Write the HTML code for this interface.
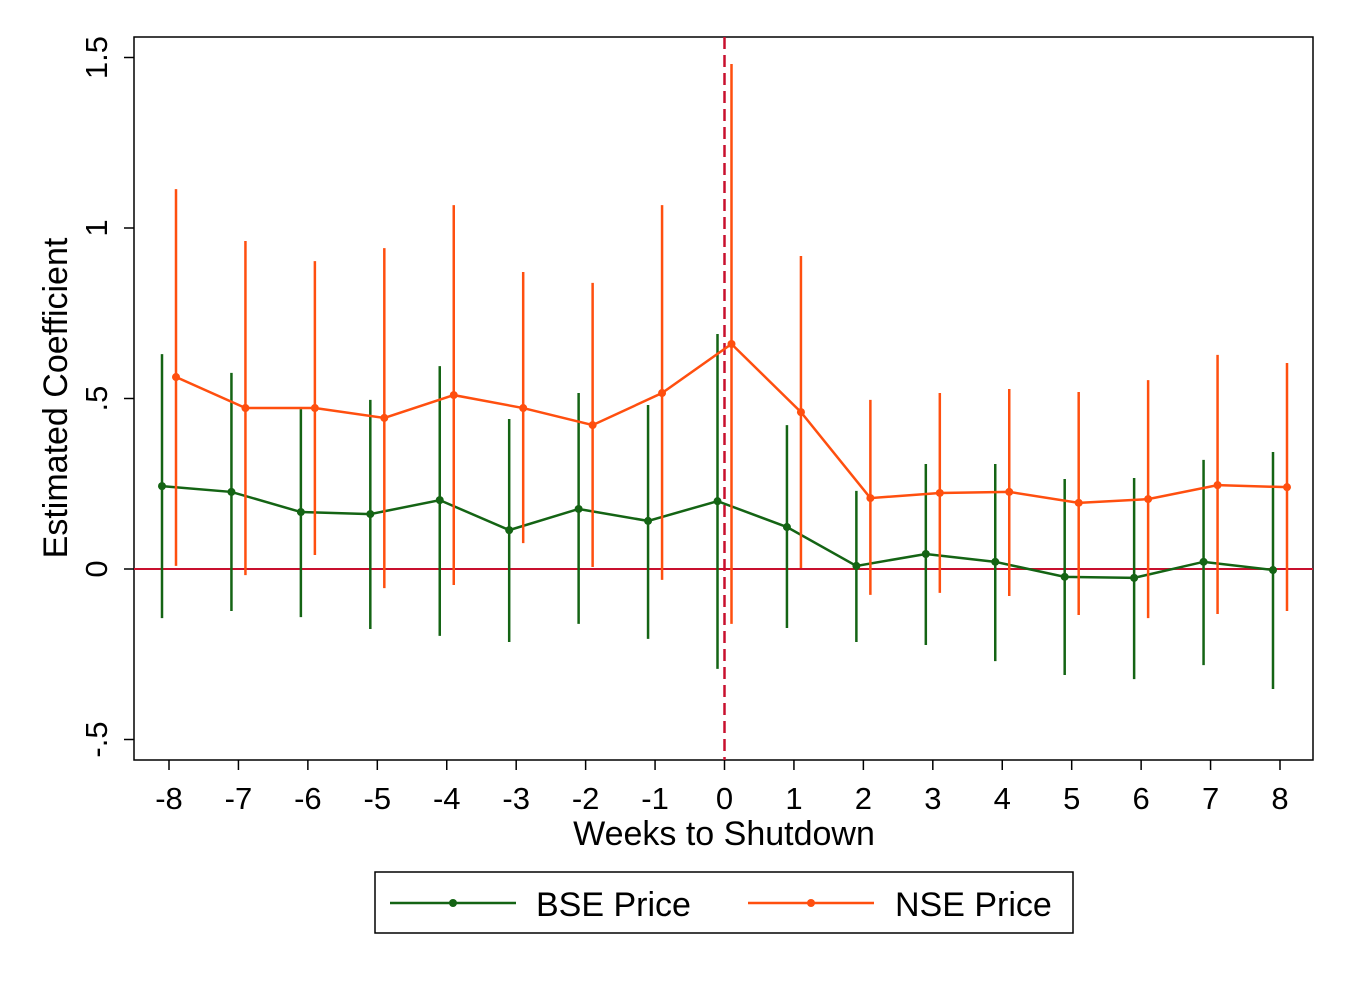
<!DOCTYPE html>
<html><head><meta charset="utf-8"><style>
html,body{margin:0;padding:0;background:#fff;}
svg{display:block;font-family:"Liberation Sans",Arial,sans-serif;}
</style></head><body>
<svg id="chart" width="1350" height="982">
<rect x="0" y="0" width="1350" height="982" fill="#fff"/>
</svg>
<script>
const weeks=[-8,-7,-6,-5,-4,-3,-2,-1,0,1,2,3,4,5,6,7,8];
const bseCoef=[0.243,0.226,0.167,0.161,0.202,0.114,0.176,0.141,0.199,0.123,0.009,0.044,0.021,-0.023,-0.026,0.021,-0.003];
const bseHi=[0.63,0.575,0.469,0.496,0.595,0.44,0.516,0.481,0.689,0.422,0.229,0.308,0.308,0.264,0.267,0.32,0.343];
const bseLo=[-0.144,-0.123,-0.141,-0.176,-0.196,-0.214,-0.161,-0.205,-0.293,-0.173,-0.214,-0.223,-0.27,-0.311,-0.323,-0.282,-0.352];
const nseCoef=[0.563,0.472,0.472,0.443,0.51,0.472,0.422,0.516,0.66,0.46,0.208,0.223,0.226,0.194,0.205,0.246,0.24];
const nseHi=[1.114,0.962,0.903,0.941,1.067,0.871,0.839,1.067,1.481,0.918,0.496,0.516,0.528,0.519,0.554,0.628,0.604];
const nseLo=[0.009,-0.018,0.041,-0.056,-0.047,0.076,0.006,-0.032,-0.161,0.003,-0.076,-0.07,-0.079,-0.135,-0.144,-0.132,-0.123];
const yTicks=[-0.5,0,0.5,1,1.5];
const yTickLabels=["-.5","0",".5","1","1.5"];

const svg=document.getElementById('chart');
const NS='http://www.w3.org/2000/svg';
const X=v=>169+(v+8)*(1280-169)/16;
const Y=v=>569-v*341;
function el(tag,attrs,text){const e=document.createElementNS(NS,tag);for(const k in attrs)e.setAttribute(k,attrs[k]);if(text!==undefined)e.textContent=text;svg.appendChild(e);return e;}

let e;
e=el('rect',{x:134,y:37,width:1179,height:723,fill:'none',stroke:'#000','stroke-width':1.5});



e=el('line',{x1:134,x2:1313,y1:Y(0),y2:Y(0),stroke:'#c8102e','stroke-width':2});


e=el('line',{x1:X(0),x2:X(0),y1:37,y2:760,stroke:'#c8102e','stroke-width':2.5,'stroke-dasharray':'12,6'});



yTicks.forEach((t,i)=>{
  const y=Y(t);
  e=el('line',{x1:124,x2:134,y1:y,y2:y,stroke:'#000','stroke-width':1.5});
  
  
  e=el('text',{x:107,y:y,'font-size':31,'text-anchor':'middle',transform:`rotate(-90 107 ${y})`},yTickLabels[i]);
  
  
});
weeks.forEach(w=>{
  const x=X(w);
  e=el('line',{x1:x,x2:x,y1:760,y2:770,stroke:'#000','stroke-width':1.5});
  
  
  e=el('text',{x:x,y:809,'font-size':31,'text-anchor':'middle'},String(w));
  
  
});
e=el('text',{x:724,y:845,'font-size':34,'text-anchor':'middle'},'Weeks to Shutdown');


e=el('text',{x:67,y:398,'font-size':34,'text-anchor':'middle',transform:'rotate(-90 67 398)'},'Estimated Coefficient');



function series(coef,hi,lo,off,color,name){
  coef.forEach((c,i)=>{
    const x=X(weeks[i])+off;
    const l=el('line',{x1:x,x2:x,y1:Y(hi[i]),y2:Y(lo[i]),stroke:color,'stroke-width':2.5});
    
    
  });
  const pts=coef.map((c,i)=>(X(weeks[i])+off)+','+Y(c)).join(' ');
  const p=el('polyline',{points:pts,fill:'none',stroke:color,'stroke-width':2.5});
  
  
  coef.forEach((c,i)=>{
    const d=el('circle',{cx:X(weeks[i])+off,cy:Y(c),r:4,fill:color});
    
    
  });
}
series(bseCoef,bseHi,bseLo,-7,'#146414','bse');
series(nseCoef,nseHi,nseLo,7,'#ff4f0f','nse');

e=el('rect',{x:375,y:872,width:698,height:61,fill:'#fff',stroke:'#000','stroke-width':1.5});


e=el('line',{x1:390,x2:516,y1:903,y2:903,stroke:'#146414','stroke-width':2.5});


e=el('circle',{cx:453,cy:903,r:4,fill:'#146414'});


e=el('text',{x:536,y:916,'font-size':34},'BSE Price');


e=el('line',{x1:748,x2:874,y1:903,y2:903,stroke:'#ff4f0f','stroke-width':2.5});


e=el('circle',{cx:811,cy:903,r:4,fill:'#ff4f0f'});


e=el('text',{x:895,y:916,'font-size':34},'NSE Price');


</script>
</body></html>
